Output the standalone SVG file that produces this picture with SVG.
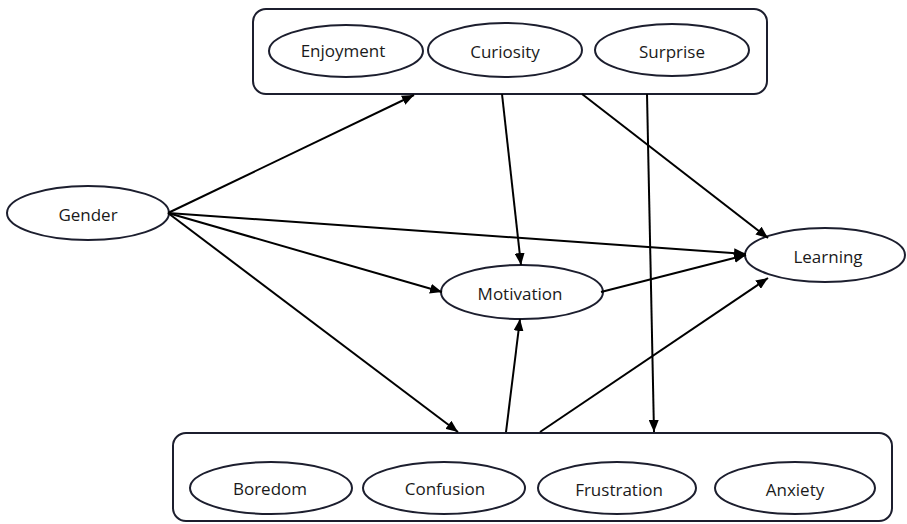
<svg xmlns="http://www.w3.org/2000/svg" width="907" height="524" viewBox="0 0 907 524">
<defs>
<marker id="arr" viewBox="0 0 12 10" refX="12" refY="5" markerWidth="12" markerHeight="10" markerUnits="userSpaceOnUse" orient="auto">
<path d="M0,0 L12,5 L0,10 z" fill="#000"/>
</marker>
<style>
.box{fill:#fff;stroke:#1c1e2e;stroke-width:2}
.node{fill:#fff;stroke:#1c1e2e;stroke-width:2}
.lbl{font-family:"Open Sans","Noto Sans",sans-serif;font-size:17px;fill:#1a1a1a;text-anchor:middle;dominant-baseline:central}
.edge{stroke:#000;stroke-width:2;fill:none;marker-end:url(#arr)}
</style>
</defs>
<rect width="907" height="524" fill="#fff"/>
<g id="positive-emotions">
<rect class="box" x="253" y="9" width="514" height="85" rx="13"/>
<g id="enjoyment"><ellipse class="node" cx="346" cy="51" rx="77" ry="26"/><text class="lbl" x="343" y="50">Enjoyment</text></g>
<g id="curiosity"><ellipse class="node" cx="505" cy="50" rx="77" ry="27"/><text class="lbl" x="505" y="51">Curiosity</text></g>
<g id="surprise"><ellipse class="node" cx="672" cy="50" rx="77" ry="26"/><text class="lbl" x="672" y="51">Surprise</text></g>
</g>
<g id="negative-emotions">
<rect class="box" x="173" y="433" width="719" height="88" rx="13"/>
<g id="boredom"><ellipse class="node" cx="271" cy="488" rx="81" ry="26"/><text class="lbl" x="270" y="488">Boredom</text></g>
<g id="confusion"><ellipse class="node" cx="444" cy="488" rx="81" ry="26"/><text class="lbl" x="445" y="488">Confusion</text></g>
<g id="frustration"><ellipse class="node" cx="617" cy="488" rx="79" ry="26"/><text class="lbl" x="619" y="489">Frustration</text></g>
<g id="anxiety"><ellipse class="node" cx="795" cy="488" rx="80" ry="26"/><text class="lbl" x="795" y="489">Anxiety</text></g>
</g>
<g id="gender"><ellipse class="node" cx="88" cy="213" rx="81" ry="27"/><text class="lbl" x="88" y="214">Gender</text></g>
<g id="motivation"><ellipse class="node" cx="522" cy="292" rx="81" ry="27"/><text class="lbl" x="520" y="293">Motivation</text></g>
<g id="learning"><ellipse class="node" cx="825" cy="255" rx="80" ry="27"/><text class="lbl" x="828" y="256">Learning</text></g>
<g id="connectors">
<line class="edge" x1="168" y1="213" x2="414" y2="95"/>
<line class="edge" x1="168" y1="213" x2="746" y2="254"/>
<line class="edge" x1="168" y1="213" x2="442" y2="292"/>
<line class="edge" x1="168" y1="213" x2="458" y2="432"/>
<line class="edge" x1="502" y1="94" x2="521" y2="265"/>
<line class="edge" x1="582" y1="94" x2="768" y2="238"/>
<line class="edge" x1="647" y1="94" x2="654" y2="432"/>
<line class="edge" x1="601" y1="292" x2="746" y2="255"/>
<line class="edge" x1="506" y1="432" x2="520" y2="319"/>
<line class="edge" x1="540" y1="432" x2="768" y2="278"/>
</g>
</svg>
